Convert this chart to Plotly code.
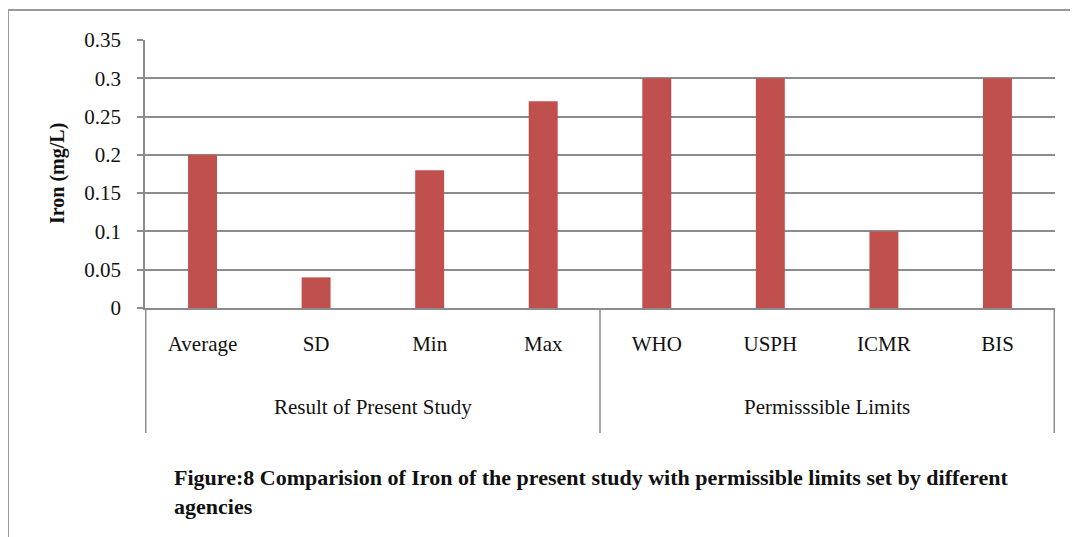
import plotly.graph_objects as go

# ── Datos ──────────────────────────────────────────────────────
categories = ["Average", "SD", "Min", "Max", "WHO", "USPH", "ICMR", "BIS"]
iron_values = [0.20, 0.04, 0.18, 0.27, 0.30, 0.30, 0.10, 0.30]
groups = ["Result of Present Study", "Permisssible Limits"]
group_span = [(0, 3), (4, 7)]
y_ticks = [0, 0.05, 0.1, 0.15, 0.2, 0.25, 0.3, 0.35]

# ── Estilo ─────────────────────────────────────────────────────
BAR = "#C0504D"
GRID = "#8c8c8c"
FONT = "Times New Roman, Liberation Serif, serif"

OFF = 8  # margen del body de la página
W, H = 1078 - OFF, 537 - OFF
L, R, T, B = 145 - OFF, 1055 - OFF, 40 - OFF, 308 - OFF
pw, ph = R - L, B - T


def px_x(x):
    # pixel de la imagen de referencia -> coordenada paper
    return (x - OFF - L) / pw


def px_y(y):
    return (B - (y - OFF)) / ph


fig = go.Figure(
    go.Bar(x=categories, y=iron_values, marker=dict(color=BAR, line_width=0))
)

shapes = []
# separadores del eje categórico
for x in [-0.5, 3.5, 7.5]:
    shapes.append(dict(type="line", xref="x", yref="paper", x0=x, x1=x,
                       y0=0, y1=px_y(433), line=dict(color=GRID, width=1.5)))
# marco exterior
shapes.append(dict(type="line", xref="paper", yref="paper",
                   x0=px_x(8), x1=px_x(1100), y0=px_y(10), y1=px_y(10),
                   line=dict(color="#999999", width=2)))
shapes.append(dict(type="line", xref="paper", yref="paper",
                   x0=px_x(8), x1=px_x(8), y0=px_y(10), y1=px_y(560),
                   line=dict(color="#999999", width=2)))

annotations = []
for name, (a, b) in zip(groups, group_span):
    annotations.append(dict(x=(a + b) / 2, y=px_y(407), xref="x", yref="paper",
                            xanchor="center", yanchor="middle",
                            text=name, showarrow=False,
                            font=dict(family=FONT, size=21, color="#111")))
annotations.append(dict(x=px_x(57), y=0.5, xref="paper", yref="paper",
                        xanchor="center", yanchor="middle",
                        text="<b>Iron (mg/L)</b>", textangle=-90, showarrow=False,
                        font=dict(family=FONT, size=20, color="#111")))
annotations.append(dict(
    x=px_x(172), y=px_y(463), xref="paper", yref="paper",
    xanchor="left", yanchor="top", align="left", showarrow=False,
    text="<b>Figure:8 Comparision of Iron of the present study with permissible "
         "limits set by different<br>agencies</b>",
    font=dict(family=FONT, size=22, color="#111"),
))

fig.update_layout(
    width=W, height=H,
    margin=dict(l=L, r=W - R, t=T, b=H - B),
    paper_bgcolor="white", plot_bgcolor="white",
    bargap=0.745, showlegend=False,
    font=dict(family=FONT, size=21, color="#111"),
    xaxis=dict(
        type="category", showgrid=False, showline=True, linecolor=GRID,
        linewidth=1.5, ticks="", ticklabelstandoff=16,
        tickfont=dict(family=FONT, size=21, color="#111"),
    ),
    yaxis=dict(
        range=[0, 0.35], tickvals=y_ticks, showgrid=True, gridcolor=GRID,
        gridwidth=1.5, zeroline=False, showline=True, linecolor=GRID,
        linewidth=1.5, ticks="outside", ticklen=6, tickcolor=GRID,
        tickwidth=1.5, ticklabelstandoff=12,
        tickfont=dict(family=FONT, size=21, color="#111"),
    ),
    shapes=shapes,
    annotations=annotations,
)

fig.write_html("out.html")
